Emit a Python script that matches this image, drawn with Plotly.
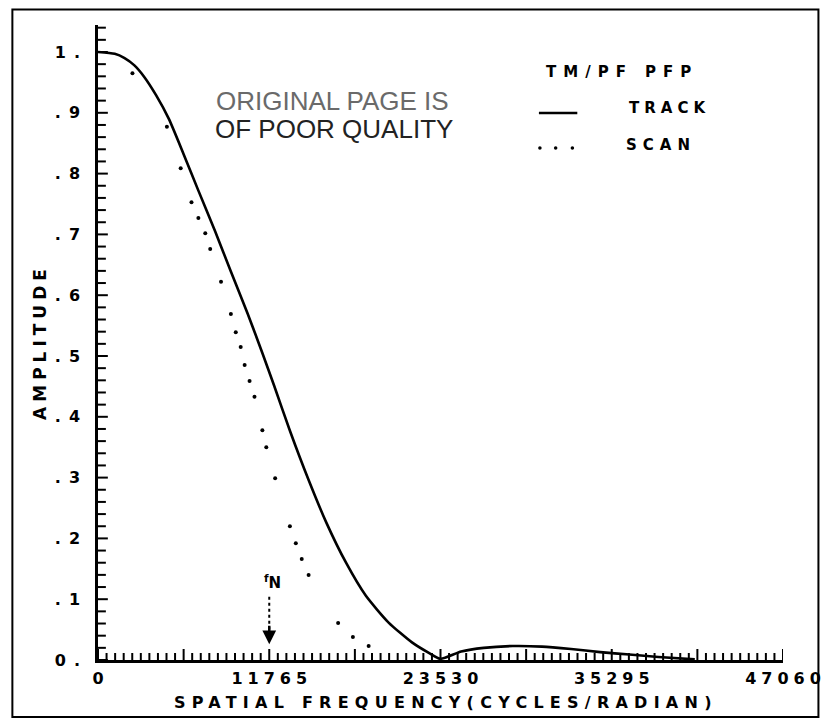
import plotly.graph_objects as go

# ---------------- data ----------------
track_freq = [0, 1149, 1826, 2502, 3178, 3989, 4868, 5882, 6897, 8046, 9128, 10277,
              11291, 12103, 13185, 14470, 15687, 17040, 18392, 19947, 21570, 22786,
              23530, 24950, 26500, 28500, 30500, 32500, 34500, 36500, 38500, 41000]
track_amp = [1.000, 0.997, 0.990, 0.978, 0.959, 0.929, 0.890, 0.832, 0.772, 0.705, 0.639, 0.570,
             0.505, 0.451, 0.377, 0.296, 0.226, 0.160, 0.106, 0.062, 0.029, 0.011,
             0.002, 0.014, 0.020, 0.023, 0.022, 0.018, 0.013, 0.009, 0.005, 0.001]

scan_freq = [2366, 4733, 5680, 6423, 6896, 7370, 7708, 8452, 9128, 9465, 9803,
             10074, 10412, 10750, 11291, 11562, 12170, 13184, 13590, 13996, 14469,
             16497, 17511, 18593]
scan_amp = [0.965, 0.877, 0.809, 0.753, 0.727, 0.702, 0.676, 0.622, 0.569, 0.539, 0.515,
            0.485, 0.459, 0.433, 0.378, 0.350, 0.299, 0.220, 0.192, 0.166, 0.140,
            0.061, 0.038, 0.023]

x_tick_vals = [0, 11765, 23530, 35295, 47060]
x_tick_labels = ["0", "11765", "23530", "35295", "47060"]
y_tick_vals = [0.0, 0.1, 0.2, 0.3, 0.4, 0.5, 0.6, 0.7, 0.8, 0.9, 1.0]
y_tick_labels = ["0.", ".1", ".2", ".3", ".4", ".5", ".6", ".7", ".8", ".9", "1."]
nyquist = 11765

X_MAX = 47060
X_MINOR_PER_MAJOR = 20
Y_MINOR_STEP = 0.02

# ---------------- layout helpers ----------------
OFF = 8
W, H = 833 - OFF, 719 - OFF
L, R, T, B = 98 - OFF, 39, 25 - OFF, 59
PW, PH = W - L - R, H - T - B
Y_PX_PER_UNIT = 608
Y_MAX = PH / Y_PX_PER_UNIT
X_UNITS_PER_PX = X_MAX / PW


def px(x):
    return (x - OFF - L) / PW


def py(y):
    return (H - B - (y - OFF)) / PH


def spaced(s, n):
    if len(s) <= 1:
        return s
    return f"<span style='letter-spacing:{n}px'>{s[:-1]}</span>{s[-1]}"


FONT = "DejaVu Sans"

fig = go.Figure()
fig.add_trace(go.Scatter(x=track_freq, y=track_amp, mode="lines",
                         line=dict(color="black", width=2.6, shape="spline", smoothing=0.6),
                         showlegend=False, hoverinfo="skip"))
fig.add_trace(go.Scatter(x=scan_freq, y=scan_amp, mode="markers",
                         marker=dict(color="black", size=4),
                         showlegend=False, hoverinfo="skip"))

fig.update_layout(
    width=W, height=H,
    margin=dict(l=L, r=R, t=T, b=B, pad=0),
    paper_bgcolor="white", plot_bgcolor="white",
    showlegend=False,
    font=dict(family=FONT, color="black", size=16, weight="bold"),
)

fig.update_xaxes(
    range=[0, X_MAX], showgrid=False, zeroline=False,
    showline=True, linecolor="black", linewidth=2.5,
    ticks="",
    tickvals=x_tick_vals, ticktext=[spaced(t, 5) for t in x_tick_labels],
    tickfont=dict(family=FONT, size=16, color="black", weight="bold"),
    ticklabelstandoff=2,
)
fig.update_yaxes(
    range=[0, Y_MAX], showgrid=False, zeroline=False,
    showline=True, linecolor="black", linewidth=2.5,
    ticks="",
    tickvals=y_tick_vals, ticktext=[spaced(t, 8) for t in y_tick_labels],
    tickfont=dict(family=FONT, size=16, color="black", weight="bold"),
    ticklabelstandoff=12,
)

ann = []
ann.append(dict(xref="paper", yref="paper", x=px(448), y=py(702),
                text=spaced("SPATIAL FREQUENCY(CYCLES/RADIAN)", 6.25),
                showarrow=False, font=dict(size=16, family=FONT, weight="bold"),
                xanchor="center", yanchor="middle"))
ann.append(dict(xref="paper", yref="paper", x=px(39), y=py(344),
                text=spaced("AMPLITUDE", 5), textangle=-90,
                showarrow=False, font=dict(size=17, family=FONT, weight="bold"),
                xanchor="center", yanchor="middle"))
ann.append(dict(xref="paper", yref="paper", x=px(216), y=py(101),
                text="ORIGINAL PAGE IS", showarrow=False,
                font=dict(size=26, family="Liberation Sans", color="#6a6a6a", weight="normal"),
                xanchor="left", yanchor="middle"))
ann.append(dict(xref="paper", yref="paper", x=px(215), y=py(129),
                text="OF POOR QUALITY", showarrow=False,
                font=dict(size=26, family="Liberation Sans", color="#222", weight="normal"),
                xanchor="left", yanchor="middle"))
ann.append(dict(xref="paper", yref="paper", x=px(551), y=py(72),
                text=spaced("TM/PF PFP", 7), showarrow=False,
                font=dict(size=15, family=FONT, weight="bold"),
                xanchor="left", yanchor="middle"))
ann.append(dict(xref="paper", yref="paper", x=px(635), y=py(108),
                text=spaced("TRACK", 5), showarrow=False,
                font=dict(size=15, family=FONT, weight="bold"),
                xanchor="left", yanchor="middle"))
ann.append(dict(xref="paper", yref="paper", x=px(632), y=py(145),
                text=spaced("SCAN", 6), showarrow=False,
                font=dict(size=15, family=FONT, weight="bold"),
                xanchor="left", yanchor="middle"))
ann.append(dict(xref="x", yref="y", x=nyquist, y=0.128,
                text="<sup>f</sup>N", showarrow=False,
                font=dict(size=15, family=FONT, weight="bold"),
                xanchor="center", yanchor="middle", xshift=3))
ann.append(dict(xref="x", yref="y", x=nyquist, y=0.026, ax=0, ay=-20,
                axref="pixel", ayref="pixel", text="", showarrow=True,
                arrowhead=2, arrowsize=1.1, arrowwidth=2.5, arrowcolor="black"))
fig.update_layout(annotations=ann)

shapes = []
# inward tick marks of the plotter-style axes (generated from the axis steps)
x_step = x_tick_vals[1] / X_MINOR_PER_MAJOR
n_x = int(round(X_MAX / x_step))
for i in range(n_x + 1):
    v = i * x_step
    long_tick = i % (X_MINOR_PER_MAJOR // 2) == 0
    ln = (11 if long_tick else 7) / Y_PX_PER_UNIT
    shapes.append(dict(type="line", xref="x", yref="y", layer="above",
                       x0=v, x1=v, y0=0, y1=ln,
                       line=dict(color="black", width=2)))
n_y = int(Y_MAX / Y_MINOR_STEP + 1e-9)
for i in range(n_y + 1):
    v = i * Y_MINOR_STEP
    long_tick = i % 5 == 0
    ln = (10 if long_tick else 8) * X_UNITS_PER_PX
    shapes.append(dict(type="line", xref="x", yref="y", layer="above",
                       x0=0, x1=ln, y0=v, y1=v,
                       line=dict(color="black", width=2)))
shapes.append(dict(type="line", xref="x", yref="y", x0=nyquist, x1=nyquist,
                   y0=0.104, y1=0.05, line=dict(color="black", width=2, dash="3px,3px")))
shapes.append(dict(type="line", xref="paper", yref="paper", x0=px(546), x1=px(585),
                   y0=py(113), y1=py(113), line=dict(color="black", width=2.5)))
for cx in (547, 563, 580):
    shapes.append(dict(type="circle", xref="paper", yref="paper",
                       x0=px(cx - 1.8), x1=px(cx + 1.8), y0=py(148 + 1.8), y1=py(148 - 1.8),
                       fillcolor="black", line=dict(width=0)))
shapes.append(dict(type="rect", xref="paper", yref="paper",
                   x0=px(11), x1=px(830), y0=py(717), y1=py(9.5),
                   line=dict(color="black", width=2)))
fig.update_layout(shapes=shapes)

fig.write_html("out.html", config={"displayModeBar": False})
